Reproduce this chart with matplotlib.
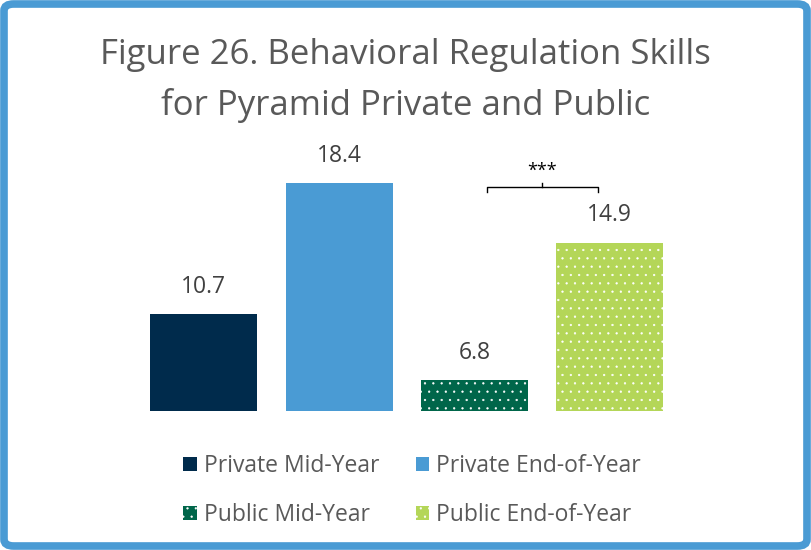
import matplotlib
matplotlib.use("Agg")
import matplotlib.pyplot as plt
from matplotlib.patches import FancyBboxPatch, Patch
import numpy as np

# data
groups = ["Private Mid-Year", "Private End-of-Year", "Public Mid-Year", "Public End-of-Year"]
scores = [10.7, 18.4, 6.8, 14.9]
bar_colors = ["#002B4C", "#4A9BD4", "#00664A", "#B4D658"]
hatches = [None, None, "..", ".."]
title = "Figure 26. Behavioral Regulation Skills\nfor Pyramid Private and Public"

plt.rcParams["font.family"] = ["Open Sans", "DejaVu Sans"]
plt.rcParams["hatch.color"] = "white"
plt.rcParams["hatch.linewidth"] = 0.4

fig = plt.figure(figsize=(8.11, 5.5), dpi=100)
W, H = 811, 550

# blue rounded frame
fig.patches.append(FancyBboxPatch((4 / W, 4 / H), 1 - 8 / W, 1 - 8 / H,
                                  boxstyle="round,pad=0,rounding_size=0.012",
                                  transform=fig.transFigure, fill=False,
                                  edgecolor="#4A9BD4", linewidth=5.5))

ax = fig.add_axes([136 / W, (H - 411) / H, 541.5 / W, 255 / H])
x = np.arange(len(scores))
bars = ax.bar(x, scores, width=0.79, color=bar_colors, linewidth=0)
for b, h in zip(bars, hatches):
    if h:
        b.set_hatch(h)
        b.set_edgecolor("white")
        b.set_linewidth(0)

ax.set_ylim(5, 20)
ax.set_xlim(-0.5, 3.5)
ax.axis("off")

for xi, v in zip(x, scores):
    ax.annotate(f"{v}", (xi, v), xytext=(0, 11), textcoords="offset points",
                ha="center", va="bottom", fontsize=16.5, color="#404040")

# significance bracket between the public bars
yb = 18.15
ax.plot([2.09, 2.09, 2.91, 2.91], [yb - 0.25, yb, yb, yb - 0.25], color="black", lw=1)
ax.plot([2.5, 2.5], [yb, yb + 0.25], color="black", lw=1)
ax.text(2.5, yb + 0.45, "***", ha="center", va="bottom", fontsize=13, color="black")

fig.text(0.5, 0.853, title, ha="center", va="center", fontsize=25,
         color="#595959", linespacing=1.6)

# legend entries in row order (2 columns, filled column by column)
order = [0, 2, 1, 3]
handles = [Patch(facecolor=bar_colors[i], hatch=hatches[i],
                 edgecolor="white" if hatches[i] else bar_colors[i], linewidth=0)
           for i in order]
leg = fig.legend(handles, [groups[i] for i in order], loc="center",
                 bbox_to_anchor=(0.508, 0.108), ncol=2, frameon=False,
                 fontsize=16.5, handlelength=0.6, handleheight=0.6,
                 handletextpad=0.3, columnspacing=1.6, labelspacing=1.1)
for t in leg.get_texts():
    t.set_color("#595959")

fig.savefig("out.png", dpi=100)
